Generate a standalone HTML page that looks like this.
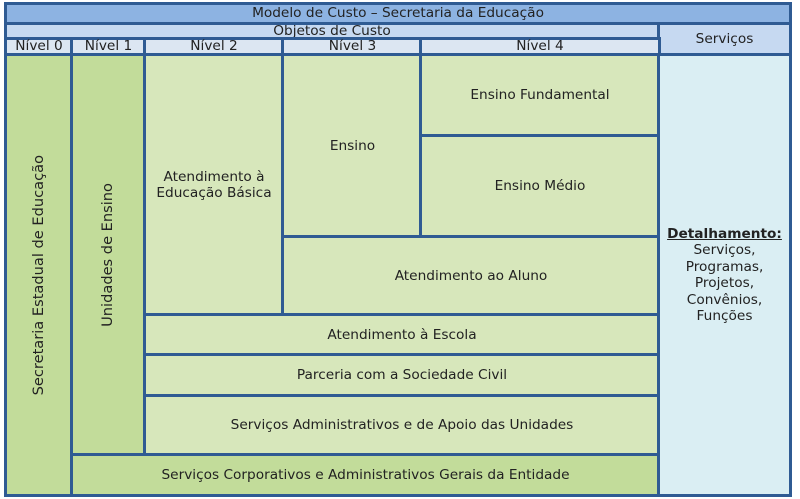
<!DOCTYPE html>
<html><head><meta charset="utf-8"><style>
*{margin:0;padding:0;box-sizing:border-box}
body{width:800px;height:499px;background:#fff;position:relative;overflow:hidden;font-family:"DejaVu Sans","Liberation Sans",sans-serif;font-size:13.7px;color:#222}
.b{position:absolute;border:3px solid #2f5b93;display:flex;align-items:center;justify-content:center;text-align:center;line-height:16.5px}
.h1{background:#8db3e2}
.h2{background:#c6d9f1}
.h3{background:#dce6f2}
.g1{background:#c2dc9a}
.g2{background:#d7e7bb}
.sv{background:#daeef3}
.v{writing-mode:vertical-rl;transform:rotate(180deg);font-size:14.6px}
</style></head><body>
<div class="b h1" style="left:4px;top:2px;width:788px;height:23px">Modelo de Custo – Secretaria da Educação</div>
<div class="b h2" style="left:4px;top:22px;width:656px;height:18px;line-height:13px">Objetos de Custo</div>
<div class="b h2" style="left:657px;top:22px;width:135px;height:34px">Serviços</div>
<div class="b h3" style="left:4px;top:37px;width:70px;height:19px">Nível 0</div>
<div class="b h3" style="left:70px;top:37px;width:77px;height:19px">Nível 1</div>
<div class="b h3" style="left:143px;top:37px;width:142px;height:19px">Nível 2</div>
<div class="b h3" style="left:281px;top:37px;width:143px;height:19px">Nível 3</div>
<div class="b h3" style="left:419px;top:37px;width:242px;height:19px">Nível 4</div>

<div class="b g1" style="left:4px;top:53px;width:70px;height:444px"><span class="v">Secretaria Estadual de Educação</span></div>
<div class="b g1" style="left:70px;top:53px;width:77px;height:404px"><span class="v">Unidades de Ensino</span></div>
<div class="b g2" style="left:143px;top:53px;width:142px;height:264px">Atendimento à<br>Educação Básica</div>
<div class="b g2" style="left:281px;top:53px;width:143px;height:186px">Ensino</div>
<div class="b g2" style="left:419px;top:53px;width:242px;height:85px">Ensino Fundamental</div>
<div class="b g2" style="left:419px;top:134px;width:242px;height:105px">Ensino Médio</div>
<div class="b g2" style="left:281px;top:235px;width:380px;height:82px">Atendimento ao Aluno</div>
<div class="b g2" style="left:143px;top:313px;width:518px;height:44px">Atendimento à Escola</div>
<div class="b g2" style="left:143px;top:353px;width:518px;height:45px">Parceria com a Sociedade Civil</div>
<div class="b g2" style="left:143px;top:394px;width:518px;height:63px">Serviços Administrativos e de Apoio das Unidades</div>
<div class="b g1" style="left:70px;top:453px;width:591px;height:44px">Serviços Corporativos e Administrativos Gerais da Entidade</div>
<div class="b sv" style="left:657px;top:53px;width:135px;height:444px"><div><b><u>Detalhamento:</u></b><br>Serviços,<br>Programas,<br>Projetos,<br>Convênios,<br>Funções</div></div>
</body></html>
